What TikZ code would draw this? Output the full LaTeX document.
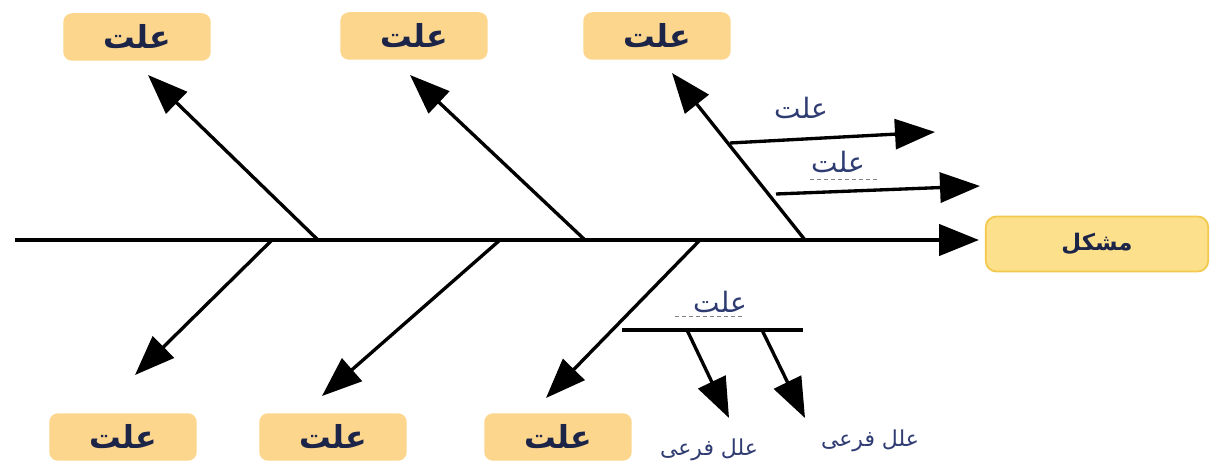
\documentclass[tikz,border=0pt]{standalone}
\usepackage{fontspec}
\usetikzlibrary{arrows.meta}
\TeXXeTstate=1
\newfontfamily\arabicfont[Script=Arabic]{DejaVu Sans}
\definecolor{CAUSEFILL}{HTML}{FDD68E}
\definecolor{PROBFILL}{HTML}{FCE08C}
\definecolor{PROBLINE}{HTML}{F2C94C}
\definecolor{NAVY}{HTML}{1C2548}
\definecolor{LABELBLUE}{HTML}{2F3C72}

\begin{document}
\begin{tikzpicture}[x=0.02cm, y=-0.02cm,
    cause/.style={fill=CAUSEFILL, rounded corners=5pt, minimum width=2.95cm,
                  minimum height=0.95cm, text=NAVY,
                  font=\arabicfont\bfseries\fontsize{18}{21}\selectfont},
    prob/.style={fill=PROBFILL, draw=PROBLINE, line width=1pt, rounded corners=6pt,
                 minimum width=4.45cm, minimum height=1.1cm, text=NAVY,
                 font=\arabicfont\bfseries\fontsize{13}{16}\selectfont},
    lbl/.style={text=LABELBLUE, inner sep=1pt, font=\arabicfont\fontsize{16}{19}\selectfont},
    sublbl/.style={text=LABELBLUE, inner sep=1pt, font=\arabicfont\fontsize{12.5}{15}\selectfont},
    spine/.style={line width=2.6pt, -{Triangle[length=0.8cm, width=0.62cm]}},
    bone/.style={line width=1.9pt, -{Triangle[length=0.8cm, width=0.6cm]}},
    under/.style={dashed, gray, line width=0.5pt, dash pattern=on 2pt off 2pt}
  ]
    \useasboundingbox (0,0) rectangle (1212,462);

    % problem and causes
    \node[prob]  (prob) at (1097,244) {\beginR مشکل\endR};
    \node[cause] (c1) at (137,37)  {\beginR علت\endR};
    \node[cause] (c2) at (414,36)  {\beginR علت\endR};
    \node[cause] (c3) at (657,36)  {\beginR علت\endR};
    \node[cause] (c4) at (123,437) {\beginR علت\endR};
    \node[cause] (c5) at (333,437) {\beginR علت\endR};
    \node[cause] (c6) at (558,437) {\beginR علت\endR};

    % spine
    \coordinate (tail) at (15,240);
    \coordinate (head) at (979,240);
    \draw[spine] (tail) -- (head);

    % bones
    \coordinate (t1) at (318,240);  \coordinate (h1) at (148,75);
    \coordinate (t2) at (585,240);  \coordinate (h2) at (410,75);
    \coordinate (t3) at (805,240);  \coordinate (h3) at (672,73);
    \coordinate (t4) at (272,240);  \coordinate (h4) at (135,375);
    \coordinate (t5) at (500,240);  \coordinate (h5) at (322,396);
    \coordinate (t6) at (700,240);  \coordinate (h6) at (546,398);
    \foreach \i in {1,...,6}
      \draw[bone] (t\i) -- (h\i);

    % sub-causes on the upper right bone
    \coordinate (s1) at (730,143);  \coordinate (e1) at (935,132);
    \coordinate (s2) at (776,194);  \coordinate (e2) at (980,186);
    \draw[bone] (s1) -- (e1);
    \draw[bone] (s2) -- (e2);
    \node[lbl] (l1) at (801,108) {\beginR علت\endR};
    \node[lbl] (l2) at (838,162) {\beginR علت\endR};
    \draw[under] ([xshift=-0.56cm, yshift=-0.1cm]l2.south) -- ([xshift=0.78cm, yshift=-0.1cm]l2.south);

    % sub-causes on the lower right bone
    \coordinate (b0) at (622,330);  \coordinate (b1) at (803,330);
    \draw[line width=1.9pt] (b0) -- (b1);
    \node[lbl] (l3) at (720,302) {\beginR علت\endR};
    \draw[under] ([xshift=-0.9cm, yshift=-0.04cm]l3.south) -- ([xshift=0.46cm, yshift=-0.04cm]l3.south);
    \coordinate (s3) at (687,330);  \coordinate (e3) at (729,418);
    \coordinate (s4) at (762,330);  \coordinate (e4) at (805,418);
    \draw[bone] (s3) -- (e3);
    \draw[bone] (s4) -- (e4);
    \node[sublbl] (l4) at (709,450) {\beginR علل فرعی\endR};
    \node[sublbl] (l5) at (870,441) {\beginR علل فرعی\endR};
\end{tikzpicture}
\end{document}
